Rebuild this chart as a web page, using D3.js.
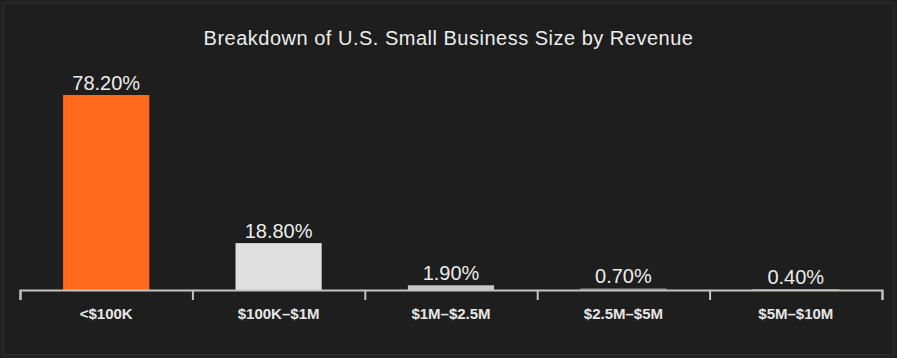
<!DOCTYPE html>
<html>
<head>
<meta charset="utf-8">
<script src="https://cdn.jsdelivr.net/npm/d3@7"></script>
<style>
  html, body { margin: 0; padding: 0; background: #222222; }
  svg { display: block; }
  .axis path, .axis line { stroke: #c4c4c4; stroke-width: 2; }
  .axis text { fill: #e6e6e6; font-size: 15px; font-weight: bold; font-family: "Liberation Sans", Arial, sans-serif; }
</style>
</head>
<body>
<div id="chart"></div>
<script>
// Data
var categories = ["<$100K", "$100K\u2013$1M", "$1M\u2013$2.5M", "$2.5M\u2013$5M", "$5M\u2013$10M"];
var shares = [78.2, 18.8, 1.9, 0.7, 0.4];
var barColors = ["#ff6a1c", "#e0e0e0", "#c8c8c8", "#707070", "#7a9a2a"];

var width = 897, height = 358;
var margin = {top: 95, right: 15, bottom: 68, left: 20};
var w = width - margin.left - margin.right,
    h = height - margin.top - margin.bottom;

var svg = d3.select("#chart")
    .append("svg")
    .attr("width", width)
    .attr("height", height);

// panel background with thin frame
svg.append("rect")
    .attr("x", 3.5).attr("y", 3.5)
    .attr("width", width - 7).attr("height", height - 7)
    .attr("fill", "#1e1e1e")
    .attr("stroke", "#2c2c2c");

svg.append("text")
    .attr("x", width / 2)
    .attr("y", 45)
    .attr("text-anchor", "middle")
    .attr("fill", "#ececec")
    .style("font-family", "Liberation Sans, Arial, sans-serif")
    .style("font-size", "20px")
    .style("letter-spacing", "0.5px")
    .text("Breakdown of U.S. Small Business Size by Revenue");

var g = svg.append("g")
    .attr("transform", "translate(" + margin.left + "," + margin.top + ")");

var xScale = d3.scaleBand()
    .domain(categories)
    .range([0, w])
    .paddingInner(0.5)
    .paddingOuter(0.25);

var yScale = d3.scaleLinear()
    .domain([0, d3.max(shares)])
    .range([h, 0]);

// bars
g.selectAll(".bar")
    .data(shares)
    .enter()
    .append("rect")
    .attr("class", "bar")
    .attr("x", function(d, i) { return xScale(categories[i]); })
    .attr("y", function(d) { return yScale(d); })
    .attr("width", xScale.bandwidth())
    .attr("height", function(d) { return h - yScale(d); })
    .attr("fill", function(d, i) { return barColors[i]; });

// value labels
g.selectAll(".val")
    .data(shares)
    .enter()
    .append("text")
    .attr("class", "val")
    .attr("x", function(d, i) { return xScale(categories[i]) + xScale.bandwidth() / 2; })
    .attr("y", function(d) { return yScale(d) - 5; })
    .attr("text-anchor", "middle")
    .attr("fill", "#ececec")
    .style("font-family", "Liberation Sans, Arial, sans-serif")
    .style("font-size", "20px")
    .text(function(d) { return d.toFixed(2) + "%"; });

// ticks sit on band edges, so use an index scale for them
var edgeScale = d3.scaleLinear()
    .domain([0, categories.length])
    .range([0, w]);

g.append("g")
    .attr("class", "axis")
    .attr("transform", "translate(0," + h + ")")
    .call(d3.axisBottom(edgeScale).ticks(categories.length).tickSize(10).tickSizeOuter(10).tickFormat(""));

// category labels
var xAxis = d3.axisBottom(xScale).tickSize(0).tickPadding(18);
var lab = g.append("g")
    .attr("class", "axis")
    .attr("transform", "translate(0," + h + ")")
    .call(xAxis);
lab.select(".domain").remove();
</script>
</body>
</html>
